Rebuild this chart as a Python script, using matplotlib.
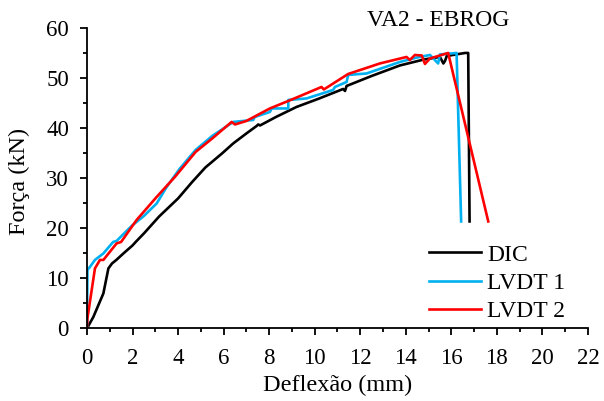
import matplotlib
matplotlib.use("Agg")
import matplotlib.pyplot as plt
from matplotlib.ticker import MultipleLocator

# -----------------------------------------
# data (mm, kN)
# -----------------------------------------
dic_x = [0, 0.28, 0.72, 0.94, 1.1, 1.29, 1.6, 2.0, 2.16, 2.5, 3.17, 4.0, 4.62,
         5.2, 5.93, 6.42, 7.0, 7.45, 7.52, 7.6, 8.3, 9.2, 10.2, 11.25, 11.33,
         11.4, 12.5, 13.74, 14.8, 15.5, 15.65, 15.72, 15.8, 16.2, 16.6, 16.74,
         16.8]
dic_y = [0, 2.3, 7.0, 12.0, 13.0, 13.7, 15.0, 16.6, 17.4, 19.0, 22.4, 26.0,
         29.3, 32.2, 35.0, 37.0, 39.0, 40.5, 40.8, 40.6, 42.3, 44.3, 46.0, 47.9,
         47.5, 48.5, 50.5, 52.6, 53.8, 54.3, 53.0, 53.5, 54.5, 54.8, 55.1, 55.1,
         21.4]

lvdt1_x = [0, 0.02, 0.13, 0.35, 0.72, 1.15, 1.3, 1.96, 2.5, 3.06, 3.5, 4.08,
           4.77, 5.5, 6.42, 7.30, 7.37, 8.03, 8.11, 8.84, 8.84, 9.64, 10.81,
           10.89, 11.40, 11.47, 12.28, 13.74, 14.5, 15.06, 15.42, 15.5, 16.23,
           16.43]
lvdt1_y = [0, 11.7, 12.3, 13.7, 15.0, 17.3, 17.5, 20.5, 22.5, 25.0, 28.3, 32.0,
           35.7, 38.5, 41.3, 41.7, 42.3, 43.3, 44.0, 44.0, 45.7, 46.0, 47.7,
           48.3, 49.3, 50.7, 51.0, 53.3, 54.2, 54.7, 53.0, 54.8, 55.1, 21.4]

lvdt2_x = [0, 0.02, 0.35, 0.57, 0.72, 1.3, 1.5, 2.18, 3.06, 3.86, 4.77, 5.5,
           6.35, 6.5, 7.0, 8.03, 9.0, 10.3, 10.4, 11.47, 12.86, 14.03, 14.18,
           14.4, 14.7, 14.84, 15.06, 15.86, 17.62]
lvdt2_y = [0, 2.0, 12.0, 13.7, 13.7, 17.0, 17.3, 21.7, 26.3, 30.3, 35.3, 38.0,
           41.3, 40.8, 41.5, 44.0, 45.8, 48.3, 47.8, 50.9, 53.0, 54.3, 53.7,
           54.7, 54.6, 52.9, 54.0, 55.1, 21.4]

plt.rcParams["font.family"] = ["Liberation Serif", "DejaVu Serif"]

fig = plt.figure(figsize=(6.04, 4.01), dpi=100)
ax = fig.add_axes([0.144, 0.181, 0.8295, 0.748])

ax.plot(dic_x, dic_y, color="black", lw=1.9, label="DIC")
ax.plot(lvdt1_x, lvdt1_y, color="#00B0F0", lw=1.9, label="LVDT 1")
ax.plot(lvdt2_x, lvdt2_y, color="#FF0000", lw=1.9, label="LVDT 2")

ax.set_xlim(0, 22)
ax.set_ylim(0, 60)
ax.xaxis.set_major_locator(MultipleLocator(2))
ax.xaxis.set_minor_locator(MultipleLocator(1))
ax.yaxis.set_major_locator(MultipleLocator(10))
ax.yaxis.set_minor_locator(MultipleLocator(5))
ax.tick_params(which="major", direction="out", length=5, width=1.3,
               labelsize=16.5, colors="black")
ax.tick_params(which="minor", direction="out", length=3, width=1.3)
ax.tick_params(axis="x", which="major", pad=9)
ax.tick_params(axis="y", which="major", pad=8)
for s in ["top", "right"]:
    ax.spines[s].set_visible(False)
for s in ["left", "bottom"]:
    ax.spines[s].set_linewidth(1.3)

ax.set_xlabel("Deflexão (mm)", fontsize=17.5)
ax.set_ylabel("Força (kN)", fontsize=17.5)
ax.xaxis.set_label_coords(0.5, -0.189)
ax.xaxis.label.set_va("center")
ax.yaxis.set_label_coords(-0.134, 0.49)
ax.yaxis.label.set_va("center")
fig.text(0.725, 0.948, "VA2 - EBROG", fontsize=17, ha="center", va="center")

ax.legend(loc="upper left", bbox_to_anchor=(0.683, 0.281), frameon=False,
          fontsize=17, handlelength=2.2, handletextpad=0.25, labelspacing=0.28,
          borderpad=0, borderaxespad=0)

fig.savefig("out.png", dpi=100)
